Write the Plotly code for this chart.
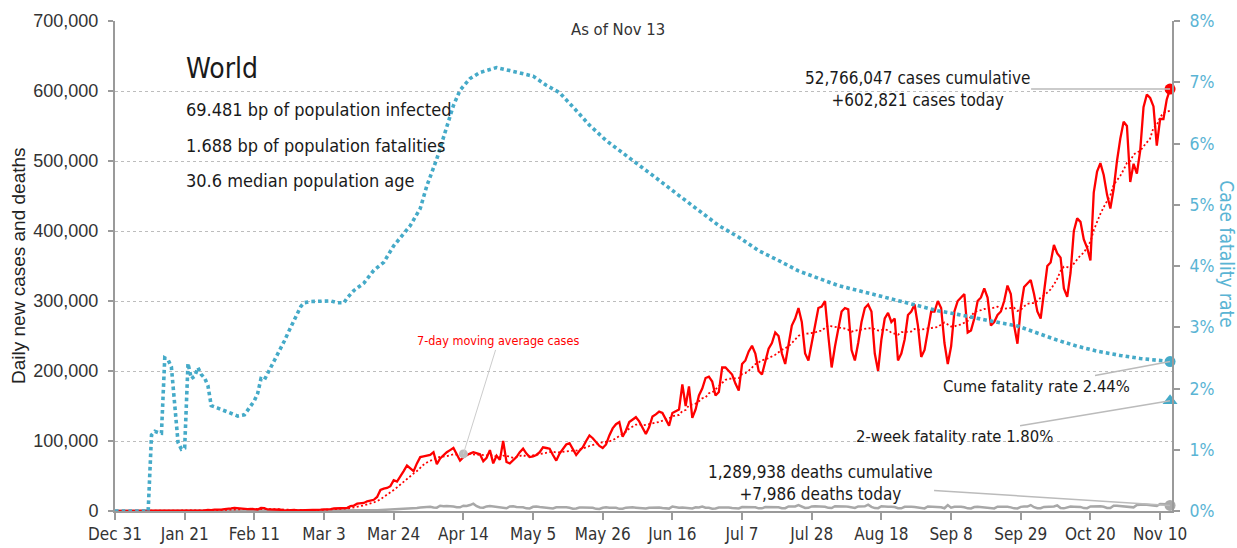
import pandas as pd
import plotly.graph_objects as go

# ---------------- data ----------------
start_date = "2019-12-31"

# daily new cases, thousands (rows = weeks starting Tuesday)
cases_k = [
    0, 0, 0, 0, 0, 0, 0,
    0, 0, 0, 0, 0, 0, 0,
    0, 0, 0, 0, 0, 0, 0,
    0.1, 0.6, 0.1, 0.3, 0.5, 0.7, 0.8,
    1.5, 1.2, 2.0, 1.7, 2.1, 2.6, 2.8,
    3.6, 4.5, 4.0, 3.4, 2.8, 2.6, 3.0,
    2.5, 2.1, 4.5, 4.0, 2.2, 2.1, 2.0,
    1.9, 1.8, 0.6, 1.0, 1.1, 1.6, 0.9,
    0.9, 1.1, 1.4, 1.4, 1.8, 1.9, 1.9,
    2.4, 2.3, 2.8, 3.6, 4.0, 3.8, 4.0,
    4.6, 7.0, 7.8, 10.5, 10.8, 11.5, 13.9,
    14.5, 16.0, 20.0, 30.0, 32.0, 33.0, 35.5,
    44, 42, 49, 57, 65, 61, 57,
    68, 77, 78, 79, 80, 84, 67,
    75, 80, 84, 87, 90, 81, 72,
    77, 80, 82, 84, 83, 81, 71,
    76, 87, 68, 79, 73, 100, 70,
    68, 72, 77, 84, 89, 82, 77,
    78, 80, 84, 91, 90, 89, 80,
    72, 82, 89, 95, 97, 88, 80,
    86, 91, 100, 108, 104, 99, 93,
    90, 95, 108, 118, 124, 127, 106,
    115, 127, 130, 134, 128, 118, 110,
    120, 135, 138, 142, 140, 130, 122,
    140, 142, 145, 181, 150, 178, 133,
    145, 165, 175, 190, 192, 185, 165,
    170, 205, 205, 200, 195, 182, 172,
    210, 215, 228, 236, 225, 200, 195,
    215, 232, 240, 255, 250, 225, 210,
    235, 265, 275, 290, 270, 225, 215,
    240, 270, 290, 292, 300, 250, 205,
    235, 260, 285, 290, 288, 230, 215,
    240, 270, 290, 295, 285, 225, 200,
    245, 275, 283, 270, 275, 215, 225,
    245, 280, 285, 295, 265, 220, 230,
    255, 285, 285, 300, 290, 240, 210,
    235, 285, 300, 305, 310, 255, 258,
    275, 300, 305, 318, 305, 265, 270,
    280, 285, 300, 322, 310, 265, 239,
    290, 320, 325, 330, 310, 285, 275,
    310, 350, 355, 380, 368, 362, 318,
    306, 340, 400, 418, 413, 388, 376,
    358, 455, 485, 497, 480, 452, 432,
    460, 500, 532, 556, 550, 470, 496,
    482, 515, 577, 595, 590, 578, 522,
    560, 560, 588, 602.821,
]

# daily deaths
deaths = [
    0, 0, 0, 0, 0, 0, 0,
    0, 0, 0, 0, 0, 0, 0,
    0, 0, 0, 0, 0, 0, 0,
    0, 9, 1, 8, 16, 14, 26,
    49, 2, 38, 42, 46, 45, 57,
    64, 66, 72, 70, 85, 87, 100,
    107, 100, 120, 143, 142, 106, 98,
    139, 115, 125, 100, 110, 150, 80,
    70, 60, 45, 60, 70, 55, 70,
    90, 85, 100, 105, 110, 120, 200,
    230, 330, 350, 430, 380, 460, 720,
    780, 1000, 1100, 1300, 1650, 1700, 1850,
    2400, 2600, 2800, 3300, 3600, 3300, 3200,
    4300, 5000, 5400, 6000, 6100, 5000, 4800,
    7500, 6700, 7300, 7400, 6500, 5500, 5300,
    7600, 7100, 8500, 10500, 6800, 5000, 4600,
    6500, 7200, 6500, 6600, 5800, 4500, 3900,
    6500, 6700, 5600, 5500, 5300, 3800, 3600,
    6000, 6500, 5800, 5300, 5000, 3800, 3500,
    5200, 5500, 5200, 5300, 4600, 3300, 3600,
    5000, 5000, 5000, 5300, 4500, 3100, 2900,
    4700, 5300, 4700, 5000, 4500, 3100, 3200,
    4800, 5300, 5300, 4800, 4300, 3300, 3500,
    4700, 5000, 4800, 5000, 4200, 3400, 3400,
    6500, 5500, 4800, 5100, 4400, 3500, 3600,
    5200, 5000, 6500, 4800, 4600, 3300, 3600,
    4900, 5000, 5200, 5000, 4300, 3500, 3600,
    5700, 5500, 5400, 5500, 5300, 3800, 3800,
    5700, 5700, 5800, 5800, 5200, 4000, 4000,
    6500, 7000, 6500, 8500, 5800, 4300, 4500,
    6500, 6800, 6700, 6500, 6000, 4500, 4200,
    6800, 7000, 6800, 6600, 6000, 4600, 4300,
    6600, 7000, 6700, 9000, 5900, 4200, 4000,
    6800, 6900, 6100, 5900, 5700, 4000, 3900,
    6000, 6500, 6000, 5800, 5400, 4000, 3700,
    6400, 6400, 5800, 5900, 5400, 3900, 8500,
    4800, 6000, 6000, 6200, 5300, 3800, 3700,
    5700, 6100, 5600, 5900, 5300, 3900, 3700,
    6200, 6400, 6000, 5900, 5200, 3800, 3700,
    5900, 6300, 6400, 8500, 5400, 4000, 3900,
    5800, 6200, 6100, 6500, 8000, 4300, 3800,
    5500, 6300, 6200, 6400, 5800, 4200, 4100,
    6500, 6800, 6600, 6700, 6000, 4400, 4300,
    7400, 7600, 7000, 7000, 6600, 5000, 5200,
    8500, 9200, 9300, 9000, 8300, 6800, 7100,
    10000, 9900, 9500, 7986,
]

# cumulative case fatality rate (%)
cfr_dates = [
    "2019-12-31", "2020-01-10", "2020-01-11", "2020-01-12", "2020-01-13", "2020-01-14",
    "2020-01-15", "2020-01-16", "2020-01-17", "2020-01-18", "2020-01-19", "2020-01-20",
    "2020-01-21", "2020-01-22", "2020-01-23", "2020-01-24", "2020-01-25", "2020-01-26",
    "2020-01-27", "2020-01-28", "2020-01-29", "2020-01-31", "2020-02-02", "2020-02-04",
    "2020-02-06", "2020-02-08", "2020-02-10", "2020-02-11", "2020-02-12", "2020-02-13",
    "2020-02-14", "2020-02-15", "2020-02-16", "2020-02-17", "2020-02-18", "2020-02-19",
    "2020-02-20", "2020-02-21", "2020-02-22", "2020-02-23", "2020-02-24", "2020-02-25",
    "2020-02-26", "2020-02-28", "2020-03-05", "2020-03-07", "2020-03-09", "2020-03-10",
    "2020-03-12", "2020-03-15", "2020-03-18", "2020-03-21", "2020-03-24", "2020-03-29",
    "2020-04-01", "2020-04-03", "2020-04-06", "2020-04-09", "2020-04-11", "2020-04-13",
    "2020-04-16", "2020-04-19", "2020-04-24", "2020-04-28", "2020-05-05", "2020-05-09",
    "2020-05-13", "2020-05-18", "2020-05-22", "2020-05-27", "2020-05-31", "2020-06-06",
    "2020-06-12", "2020-06-18", "2020-06-24", "2020-06-30", "2020-07-06", "2020-07-12",
    "2020-07-18", "2020-07-24", "2020-07-30", "2020-08-05", "2020-08-11", "2020-08-17",
    "2020-08-23", "2020-08-29", "2020-09-04", "2020-09-10", "2020-09-16", "2020-09-22",
    "2020-09-28", "2020-10-04", "2020-10-10", "2020-10-16", "2020-10-22", "2020-10-29",
    "2020-11-04", "2020-11-13",
]
cfr_values = [
    0, 0, 1.24, 1.30, 1.28, 1.27,
    2.50, 2.47, 2.35, 1.70, 1.12, 1.01,
    1.03, 2.41, 2.16, 2.20, 2.34, 2.23,
    2.17, 2.05, 1.72, 1.68, 1.64, 1.60,
    1.55, 1.57, 1.72, 1.80, 1.92, 2.16,
    2.14, 2.24, 2.36, 2.45, 2.55, 2.66,
    2.77, 2.89, 3.01, 3.10, 3.23, 3.34,
    3.40, 3.42, 3.43, 3.40, 3.40, 3.48,
    3.60, 3.72, 3.93, 4.06, 4.33, 4.66,
    4.94, 5.31, 5.75, 6.25, 6.62, 6.87,
    7.06, 7.16, 7.24, 7.19, 7.10, 6.95,
    6.83, 6.54, 6.30, 6.05, 5.89, 5.64,
    5.40, 5.15, 4.90, 4.66, 4.47, 4.25,
    4.09, 3.92, 3.80, 3.68, 3.60, 3.52,
    3.44, 3.36, 3.27, 3.21, 3.14, 3.08,
    3.02, 2.90, 2.79, 2.69, 2.61, 2.54,
    2.49, 2.44,
]
two_week_rate = 1.80
ma_label_date = "2020-04-14"

tick_dates = ["2019-12-31", "2020-01-21", "2020-02-11", "2020-03-03", "2020-03-24",
              "2020-04-14", "2020-05-05", "2020-05-26", "2020-06-16", "2020-07-07",
              "2020-07-28", "2020-08-18", "2020-09-08", "2020-09-29", "2020-10-20",
              "2020-11-10"]
tick_labels = ["Dec 31", "Jan 21", "Feb 11", "Mar 3", "Mar 24", "Apr 14", "May 5",
               "May 26", "Jun 16", "Jul 7", "Jul 28", "Aug 18", "Sep 8", "Sep 29",
               "Oct 20", "Nov 10"]

# ---------------- derived ----------------
dates = pd.date_range(start_date, periods=len(cases_k), freq="D")
cases = [v * 1000 for v in cases_k]
ma7 = pd.Series(cases, index=dates).rolling(7, min_periods=1).mean()
ma_label_value = float(ma7.loc[ma_label_date])

# ---------------- style ----------------
NARROW = "DejaVu Sans Condensed, Liberation Sans Narrow, Liberation Sans, sans-serif"
ARIAL = "Liberation Sans, Arial, sans-serif"
TEAL = "#45aac8"
TEAL_TXT = "#5ab4d4"
RED = "#ff0000"
GRAY = "#a8a8a8"
AX = "#9a9a9a"
TXT = "#1a1a1a"

L, R, T, B = 115, 1172, 20.7, 510.7
def px(x):
    return (x - L) / (R - L)
def py(y):
    return (B - y) / (B - T)

fig = go.Figure()

fig.add_trace(go.Scatter(x=cfr_dates, y=cfr_values, yaxis="y2", mode="lines",
                         line=dict(color=TEAL, width=3.6, dash="3.6px,3.1px"),
                         hoverinfo="skip"))
fig.add_trace(go.Scatter(x=dates, y=deaths, mode="lines",
                         line=dict(color=GRAY, width=2.5), hoverinfo="skip"))
fig.add_trace(go.Scatter(x=dates, y=ma7, mode="lines",
                         line=dict(color=RED, width=1.8, dash="2px,2.4px"),
                         hoverinfo="skip"))
fig.add_trace(go.Scatter(x=dates, y=cases, mode="lines",
                         line=dict(color=RED, width=2.3), hoverinfo="skip"))

# end markers
fig.add_trace(go.Scatter(x=[dates[-1]], y=[cases[-1]], mode="markers", cliponaxis=False,
                         marker=dict(color=RED, size=11)))
fig.add_trace(go.Scatter(x=[dates[-1]], y=[deaths[-1]], mode="markers", cliponaxis=False,
                         marker=dict(color="#aaaaaa", size=11)))
fig.add_trace(go.Scatter(x=[dates[-1]], y=[cfr_values[-1]], yaxis="y2", mode="markers",
                         cliponaxis=False, marker=dict(color=TEAL, size=11)))
fig.add_trace(go.Scatter(x=[dates[-1]], y=[two_week_rate], yaxis="y2", mode="markers",
                         cliponaxis=False,
                         marker=dict(color=TEAL, size=13, symbol="triangle-up")))
fig.add_trace(go.Scatter(x=[ma_label_date], y=[ma_label_value], mode="markers",
                         marker=dict(color="#bdbdbd", size=9)))

ann = []
def txt(x, y, text, size, color=TXT, family=NARROW, xanchor="left", **kw):
    ann.append(dict(xref="paper", yref="paper", x=px(x), y=py(y), text=text,
                    showarrow=False, xanchor=xanchor, yanchor="middle",
                    font=dict(family=family, size=size, color=color), **kw))

txt(184, 68, "World", 28)
txt(184, 109, "69.481 bp of population infected", 18)
txt(184, 145, "1.688 bp of population fatalities", 18)
txt(184, 180, "30.6 median population age", 18)
txt(618, 29, "As of Nov 13", 16.5, color="#333", xanchor="center")
txt(18, 265.7, "Daily new cases and deaths", 19, color="#222", family=ARIAL,
    xanchor="center", textangle=-90)
txt(1227, 253, "Case fatality rate", 19, color=TEAL_TXT, xanchor="center", textangle=90)

def callout(x, y, text, ax, ay, yref="y", color=TXT, size=17, acolor="#bbbbbb", aw=1.5):
    ann.append(dict(x=x, y=y, xref="x", yref=yref, text=text, showarrow=True,
                    ax=ax, ay=ay, arrowhead=0, arrowwidth=aw, arrowcolor=acolor,
                    standoff=0, align="center",
                    font=dict(family=NARROW, size=size, color=color)))

callout(dates[-1], cases[-1], "52,766,047 cases cumulative<br>+602,821 cases today", -253, 0)
callout(dates[-1], cfr_values[-1], "Cume fatality rate 2.44%", -134, 25, yref="y2", size=16.5)
callout(dates[-1], two_week_rate, "2-week fatality rate 1.80%", -216, 36, yref="y2", size=16.5)
callout(dates[-1], deaths[-1], "1,289,938 deaths cumulative<br>+7,986 deaths today", -350, -22)
callout(ma_label_date, ma_label_value, "7-day moving average cases", 35, -113,
        color=RED, size=12.5, acolor="#cccccc", aw=1)

fig.update_layout(
    width=1237, height=548,
    margin=dict(l=L, r=1237 - R, t=T, b=548 - B, autoexpand=False),
    paper_bgcolor="white", plot_bgcolor="white",
    showlegend=False,
    annotations=ann,
    xaxis=dict(type="date", range=["2019-12-31", "2020-11-13 14:00"],
               tickvals=tick_dates, ticktext=tick_labels,
               tickfont=dict(family=NARROW, size=17, color="#333"),
               showgrid=False, zeroline=False, automargin=False,
               showline=True, linecolor=AX, linewidth=2,
               ticks="outside", ticklen=7, tickwidth=1.5, tickcolor=AX),
    yaxis=dict(range=[0, 700000], dtick=100000, tickformat=",",
               tickfont=dict(family=ARIAL, size=18, color="#333"),
               showgrid=True, gridcolor="#bdbdbd", griddash="dot", gridwidth=1,
               zeroline=False, showline=True, linecolor=AX, linewidth=2,
               ticks="outside", ticklen=5, tickwidth=1.5, tickcolor=AX,
               ticklabelstandoff=6, automargin=False),
    yaxis2=dict(overlaying="y", side="right", range=[0, 8], dtick=1, ticksuffix="%",
                tickfont=dict(family=NARROW, size=17.5, color=TEAL_TXT),
                showgrid=False, zeroline=False, showline=True, linecolor=AX, linewidth=2,
                ticks="outside", ticklen=6, tickwidth=1.5, tickcolor=AX,
                ticklabelstandoff=6, automargin=False),
)

fig.write_html("out.html", config={"displayModeBar": False},
               post_script="document.body.style.margin='0';document.body.style.overflow='hidden';")
